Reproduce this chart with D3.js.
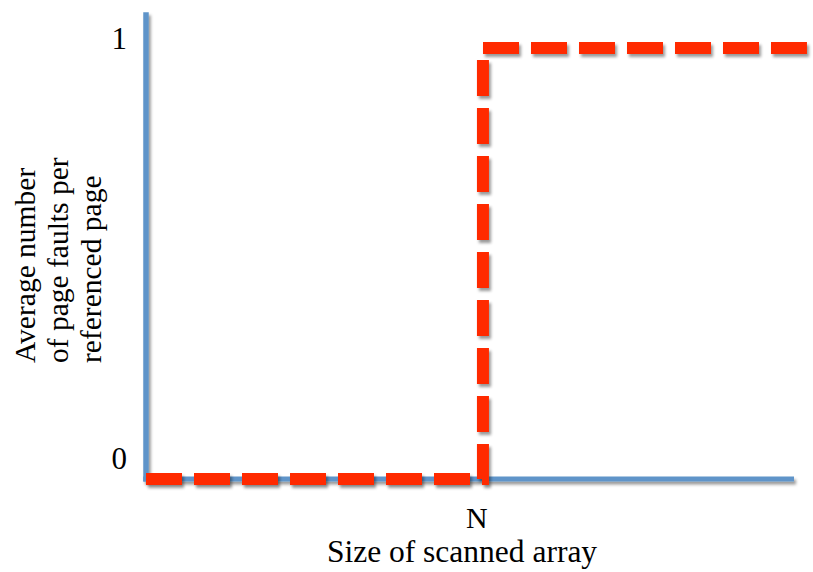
<!DOCTYPE html>
<html>
<head>
<meta charset="utf-8">
<script src="https://cdn.jsdelivr.net/npm/d3@7/dist/d3.min.js"></script>
<style>
  html, body { margin: 0; padding: 0; background: #fff; }
  svg { display: block; }
  text { font-family: "Liberation Serif", "Times New Roman", serif; fill: #000; }
</style>
</head>
<body>
<svg id="chart" width="813" height="572"></svg>
<script>
// ---- data ----
const stepX = [0, 0.52, 0.52, 1.02];   // step curve, x in units of axis length
const stepY = [0, 0, 1, 1];            // average page faults per referenced page
const xTickValues = [0.52];
const xTickLabels = ["N"];
const yTickValues = [0, 1];
const yTickLabels = ["0", "1"];
const xAxisMax = 1.0;
const yAxisMax = 1.083;
const xTitle = "Size of scanned array";
const yTitleLines = ["Average number", "of page faults per", "referenced page"];

// ---- layout ----
const svg = d3.select("#chart");
const x = d3.scaleLinear().domain([0, 1]).range([146, 794]);
const y = d3.scaleLinear().domain([0, 1]).range([479, 48]);
const yTickDy = [-10, 1];

const defs = svg.append("defs");
const f = defs.append("filter").attr("id", "shadow")
  .attr("x", "-10%").attr("y", "-10%").attr("width", "120%").attr("height", "120%");
f.append("feDropShadow").attr("dx", 2).attr("dy", 3).attr("stdDeviation", 1.8)
  .attr("flood-color", "#000").attr("flood-opacity", 0.4);

// axes lines
const axisG = svg.append("g").attr("filter", "url(#shadow)");
axisG.append("line")
  .attr("x1", x(0)).attr("x2", x(0))
  .attr("y1", y(yAxisMax)).attr("y2", y(0) + 2.5)
  .attr("stroke", "#5f94c9").attr("stroke-width", 5.5);
axisG.append("line")
  .attr("x1", x(0) - 2.75).attr("x2", x(xAxisMax))
  .attr("y1", y(0)).attr("y2", y(0))
  .attr("stroke", "#5f94c9").attr("stroke-width", 5);

// step line
const pts = stepX.map((v, i) => [v, stepY[i]]);
const line = d3.line().x(d => x(d[0])).y(d => y(d[1]));
svg.append("path")
  .datum(pts)
  .attr("d", line)
  .attr("fill", "none")
  .attr("stroke", "#ff2a00")
  .attr("stroke-width", 12)
  .attr("stroke-dasharray", "36,12")
  .attr("stroke-linejoin", "miter")
  .attr("filter", "url(#shadow)");

// y tick labels
svg.selectAll(".ytick").data(yTickValues).enter().append("text")
  .attr("class", "ytick")
  .attr("x", 127)
  .attr("y", (d, i) => y(d) + yTickDy[i])
  .attr("text-anchor", "end")
  .style("font-size", "31px")
  .text((d, i) => yTickLabels[i]);

// x tick labels
svg.selectAll(".xtick").data(xTickValues).enter().append("text")
  .attr("class", "xtick")
  .attr("x", d => x(d) - 6)
  .attr("y", 528)
  .attr("text-anchor", "middle")
  .style("font-size", "30px")
  .text((d, i) => xTickLabels[i]);

// x title
svg.append("text")
  .attr("x", 462).attr("y", 562)
  .attr("text-anchor", "middle")
  .style("font-size", "31.5px")
  .text(xTitle);

// y title
const yt = svg.append("text")
  .attr("transform", "translate(0,363) rotate(-90)")
  .attr("text-anchor", "start")
  .style("font-size", "29.5px");
yTitleLines.forEach((t, i) => {
  yt.append("tspan").attr("x", 0).attr("y", 35 + i * 33).text(t);
});
</script>
</body>
</html>
